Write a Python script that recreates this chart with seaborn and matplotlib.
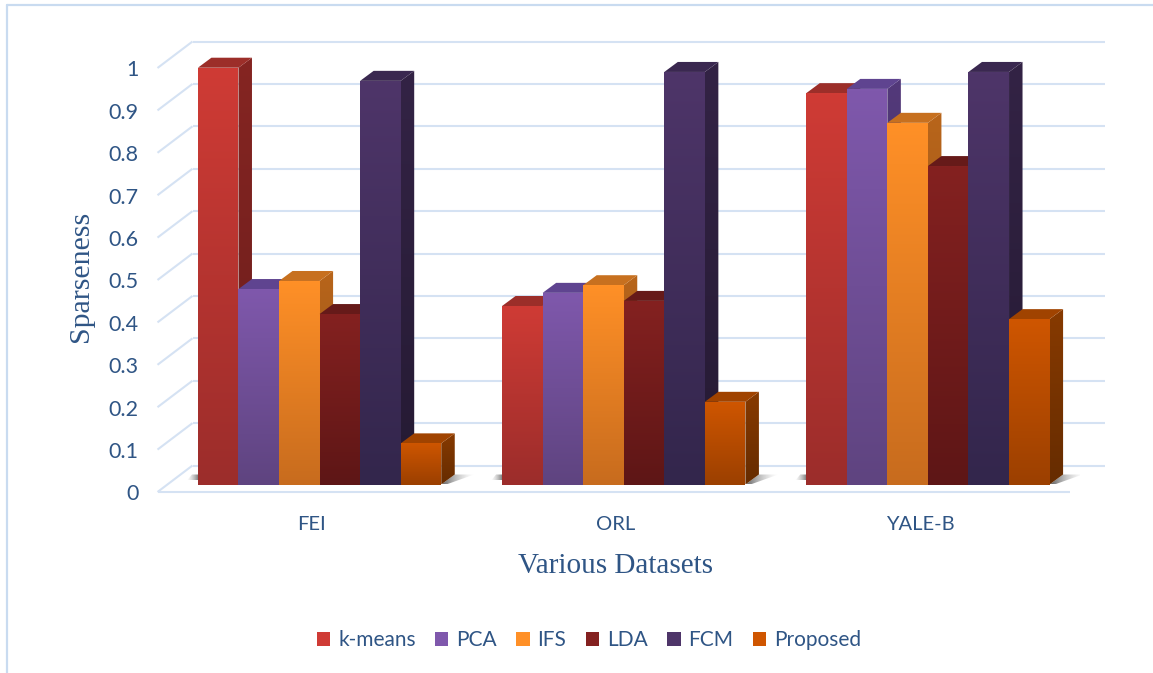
import numpy as np
import pandas as pd
import matplotlib
matplotlib.use("Agg")
import matplotlib.pyplot as plt
from matplotlib.colors import to_rgb
from matplotlib.patches import Polygon, Rectangle
from matplotlib.transforms import Affine2D
import seaborn as sns

datasets = ["FEI", "ORL", "YALE-B"]
methods = ["k-means", "PCA", "IFS", "LDA", "FCM", "Proposed"]
kmeans = [0.983, 0.421, 0.923]
pca = [0.461, 0.452, 0.933]
ifs = [0.480, 0.470, 0.853]
lda = [0.402, 0.433, 0.751]
fcm = [0.952, 0.973, 0.973]
proposed = [0.097, 0.195, 0.390]
yticks = [0, 0.1, 0.2, 0.3, 0.4, 0.5, 0.6, 0.7, 0.8, 0.9, 1]
ytick_labels = ["0", "0.1", "0.2", "0.3", "0.4", "0.5", "0.6", "0.7", "0.8", "0.9", "1"]

# front, side and top shades for each method: (upper, lower)
front_shades = {
    "k-means": ("#CF3B35", "#9C2D2B"),
    "PCA": ("#7F58AC", "#5F4480"),
    "IFS": ("#FF9027", "#C86C1E"),
    "LDA": ("#842120", "#5E1616"),
    "FCM": ("#4E3569", "#33264C"),
    "Proposed": ("#CF5600", "#9C4000"),
}
side_shades = {
    "k-means": ("#852522", "#6A1D1B"),
    "PCA": ("#53397A", "#40305F"),
    "IFS": ("#B8651B", "#8E4F16"),
    "LDA": ("#5A1615", "#451110"),
    "FCM": ("#332345", "#251A33"),
    "Proposed": ("#873A00", "#662C00"),
}
top_colors = {
    "k-means": "#9C2E29",
    "PCA": "#5F4490",
    "IFS": "#C7701F",
    "LDA": "#661A19",
    "FCM": "#3A2850",
    "Proposed": "#A04300",
}

TEXT = "#2F5585"
GRID = "#D5E2F3"
FRAME = "#C9DBF0"
SANS = "Lato"
SERIF = "Liberation Serif"

sns.set_theme(style="white")
plt.rcParams["font.family"] = [SANS, "DejaVu Sans"]

df = pd.DataFrame({
    "dataset": np.tile(datasets, len(methods)),
    "method": np.repeat(methods, len(datasets)),
    "value": kmeans + pca + ifs + lda + fcm + proposed,
})

W, H = 1153, 673
fig = plt.figure(figsize=(W / 100, H / 100), dpi=100, facecolor="white")
AX_L, AX_B, AX_W, AX_H = 167.5, 484.5, 912.5, 466.4
ax = fig.add_axes([AX_L / W, (H - AX_B) / H, AX_W / W, AX_H / H])

sns.barplot(
    data=df, x="dataset", y="value", hue="method", hue_order=methods,
    order=datasets, palette=[front_shades[m][1] for m in methods],
    width=0.8, gap=0, saturation=1, legend=False, linewidth=0, ax=ax,
)
ax.set_xlim(-0.5, 2.5)
ax.set_ylim(0, AX_H / 424)


def ux(px):
    return px * 3 / AX_W


def uy(px):
    return px / 424


def gradient_fill(verts, upper, lower, zorder, horizontal=False, alphas=(1, 1)):
    """Paint a polygon with a linear two-colour gradient."""
    verts = np.asarray(verts)
    t = np.linspace(0, 1, 64)
    c0, c1 = np.array(to_rgb(upper)), np.array(to_rgb(lower))
    rgb = c0[None, :] * (1 - t[:, None]) + c1[None, :] * t[:, None]
    alpha = alphas[0] * (1 - t) + alphas[1] * t
    img = np.dstack([rgb[None, :, :], alpha[None, :, None]])
    if not horizontal:
        img = img.transpose(1, 0, 2)
    extent = [verts[:, 0].min(), verts[:, 0].max(), verts[:, 1].min(), verts[:, 1].max()]
    im = ax.imshow(img, extent=extent, origin="upper", aspect="auto",
                   interpolation="bilinear", zorder=zorder)
    clip = Polygon(verts, closed=True, transform=ax.transData)
    im.set_clip_path(clip)
    return im


# wall and floor rules sit at fixed depth offsets from the bar plane
BACK = (25, 19)
FRONT = (-10, -7.5)
RULE_LW = 1.5
x_left, x_right = -0.5, 2.5
for y in yticks:
    ax.plot([x_left + ux(BACK[0]), x_right + ux(BACK[0])], [y + uy(BACK[1])] * 2,
            color=GRID, lw=RULE_LW, clip_on=False, zorder=1, solid_capstyle="butt")
    ax.plot([x_left + ux(FRONT[0]), x_left + ux(BACK[0])],
            [y + uy(FRONT[1]), y + uy(BACK[1])],
            color=GRID, lw=RULE_LW, clip_on=False, zorder=1, solid_capstyle="butt")
ax.plot([x_left + ux(FRONT[0]), x_right + ux(FRONT[0])], [uy(FRONT[1])] * 2,
        color=GRID, lw=RULE_LW, clip_on=False, zorder=1, solid_capstyle="butt")

# box faces, painted left to right so each bar hides its neighbour's hidden side
DX, DY = ux(13.5), uy(10)
bars = sorted([p for p in ax.patches if p.get_height() > 0], key=lambda p: p.get_x())
for idx, bar in enumerate(bars):
    x0, w, h = bar.get_x(), bar.get_width(), bar.get_height()
    x1 = x0 + w
    m = methods[idx % len(methods)]
    z = 3 + idx * 0.1
    side = [(x1, 0), (x1 + DX, DY), (x1 + DX, h + DY), (x1, h)]
    gradient_fill(side, side_shades[m][0], side_shades[m][1], z)
    top = Polygon([(x0, h), (x1, h), (x1 + DX, h + DY), (x0 + DX, h + DY)], closed=True,
                  facecolor=top_colors[m], edgecolor="none", zorder=z + 0.01)
    ax.add_patch(top)
    bar.set_zorder(z + 0.02)
    gradient_fill([(x0, 0), (x1, 0), (x1, h), (x0, h)],
                  front_shades[m][0], front_shades[m][1], z + 0.03)

# soft floor shadows beside each group
for g in range(len(datasets)):
    group = bars[g * len(methods):(g + 1) * len(methods)]
    xa = group[0].get_x()
    xb = group[-1].get_x() + group[-1].get_width()
    gradient_fill([(xb, 0), (xb + ux(13.5), uy(10)), (xb + ux(33), uy(10)), (xb + ux(5), 0)],
                  "#555555", "#BBBBBB", 2, horizontal=True, alphas=(0.95, 0))
    gradient_fill([(xa - ux(11), uy(4)), (xa - ux(6), uy(10)), (xa + ux(2), uy(10)), (xa + ux(2), uy(4))],
                  "#BBBBBB", "#555555", 2, horizontal=True, alphas=(0, 0.95))

# axis text
ax.set_yticks(yticks, ytick_labels)
ax.tick_params(axis="y", length=0, pad=21, labelsize=15.5, labelcolor=TEXT)
ax.tick_params(axis="x", length=0, pad=23, labelsize=14.5, labelcolor=TEXT)
shift_y = Affine2D().translate(0, -8)
for lab in ax.get_yticklabels():
    lab.set_transform(lab.get_transform() + shift_y)
shift_x = Affine2D().translate(-8, 0)
for lab in ax.get_xticklabels():
    lab.set_transform(lab.get_transform() + shift_x)

ax.set_xlabel("Various Datasets", family=SERIF, fontsize=21, color=TEXT, va="center")
ax.xaxis.set_label_coords((615 - AX_L) / AX_W, -(566 - AX_B) / AX_H)
ax.set_ylabel("Sparseness", family=SERIF, fontsize=21.5, color=TEXT, va="center")
ax.yaxis.set_label_coords((81 - AX_L) / AX_W, (AX_B - 276) / AX_H)

for spine in ax.spines.values():
    spine.set_visible(False)
ax.grid(False)
ax.set_facecolor("none")

# legend with square swatches
handles = [Rectangle((0, 0), 1, 1, facecolor=front_shades[m][0], edgecolor="none")
           for m in methods]
leg = fig.legend(handles, methods, ncol=6, frameon=False, loc="center",
                 bbox_to_anchor=(589 / W, 1 - 640 / H), fontsize=15, labelcolor=TEXT,
                 handlelength=0.64, handleheight=0.64, handletextpad=0.38, columnspacing=0.93,
                 borderpad=0)

# outer frame: left and top edges only
fig.add_artist(plt.Line2D([7 / W, 7 / W], [0, 1 - 5 / H], color=FRAME, lw=1.6))
fig.add_artist(plt.Line2D([7 / W, 1], [1 - 5 / H, 1 - 5 / H], color=FRAME, lw=1.6))

fig.savefig("out.png", dpi=100, facecolor="white")
